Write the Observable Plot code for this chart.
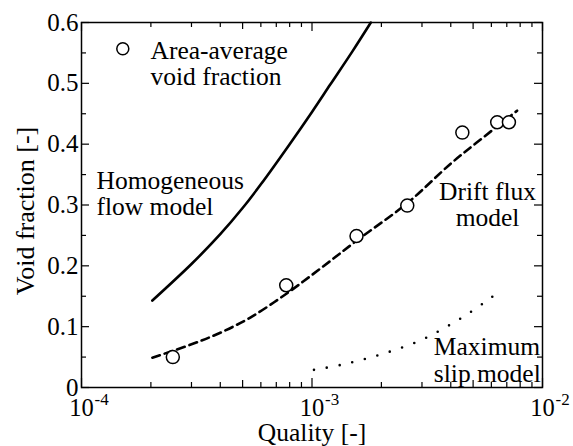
<!DOCTYPE html>
<html>
<head>
<meta charset="utf-8">
<script src="https://cdn.jsdelivr.net/npm/d3@7"></script>
<script src="https://cdn.jsdelivr.net/npm/@observablehq/plot@0.6"></script>
<style>
  html, body { margin: 0; padding: 0; background: #fff; }
  #chart { width: 573px; height: 446px; }
</style>
</head>
<body>
<div id="chart"></div>
<script>
// Measured void fraction (area-average)
const quality  = [2.49e-4, 7.73e-4, 1.56e-3, 2.59e-3, 4.49e-3, 6.36e-3, 7.15e-3];
const voidFrac = [0.050, 0.168, 0.249, 0.299, 0.419, 0.436, 0.436];

// Homogeneous flow model (solid)
const homX = [2.03e-4, 3.0e-4, 4.0e-4, 5.0e-4, 6.0e-4, 8.0e-4, 1.0e-3, 1.2e-3, 1.5e-3, 1.8e-3];
const homY = [0.143, 0.203, 0.252, 0.295, 0.334, 0.400, 0.453, 0.498, 0.553, 0.600];

// Drift flux model (dashed)
const driftX = [2.03e-4, 3.0e-4, 4.0e-4, 5.4e-4, 7.8e-4, 1.1e-3, 1.57e-3, 2.59e-3, 4.0e-3, 5.2e-3, 7.76e-3];
const driftY = [0.049, 0.071, 0.090, 0.115, 0.155, 0.197, 0.242, 0.303, 0.368, 0.403, 0.455];

// Maximum slip model (dotted)
const slipX = [1.02e-3, 1.33e-3, 1.74e-3, 2.26e-3, 2.94e-3, 3.76e-3, 4.74e-3, 5.95e-3, 6.64e-3];
const slipY = [0.029, 0.037, 0.048, 0.061, 0.077, 0.098, 0.121, 0.147, 0.161];

// Ticks
const yMajor = [0, 0.1, 0.2, 0.3, 0.4, 0.5, 0.6];
const yMinor = [0.05, 0.15, 0.25, 0.35, 0.45, 0.55];
const xMajor = [1e-4, 1e-3, 1e-2];
const xMajorExp = ["-4", "-3", "-2"];
const xMid = [5e-4, 5e-3];
const xMinor = [2e-4, 3e-4, 4e-4, 6e-4, 7e-4, 8e-4, 9e-4, 2e-3, 3e-3, 4e-3, 6e-3, 7e-3, 8e-3, 9e-3];

const W = 573, H = 446;
const mL = 81, mR = 31, mT = 22, mB = 59;
const pw = W - mL - mR, ph = H - mT - mB;

const toRows = (xs, ys) => xs.map((x, i) => ({x, y: ys[i]}));
const pts = toRows(quality, voidFrac);
const hom = toRows(homX, homY);
const drift = toRows(driftX, driftY);
const slip = toRows(slipX, slipY);
const xLab = xMajor.map((x, i) => ({x, e: xMajorExp[i]}));

const font = "'Liberation Serif', 'Times New Roman', Times, serif";

const chart = Plot.plot({
  width: W, height: H,
  marginLeft: mL, marginRight: mR, marginTop: mT, marginBottom: mB,
  style: {fontFamily: font, fontSize: "25px", background: "#fff", color: "#000"},
  x: {type: "log", domain: [1e-4, 1e-2], axis: null},
  y: {domain: [0, 0.6], axis: null},
  marks: [
    // model curves
    Plot.line(hom, {x: "x", y: "y", curve: "catmull-rom", stroke: "#000", strokeWidth: 2.6}),
    Plot.line(drift, {x: "x", y: "y", curve: "catmull-rom", stroke: "#000", strokeWidth: 2.6, strokeDasharray: "8,5"}),
    Plot.line(slip, {x: "x", y: "y", curve: "catmull-rom", stroke: "#000", strokeWidth: 2.6, strokeDasharray: "0,13", strokeLinecap: "round"}),
    // data
    Plot.dot(pts, {x: "x", y: "y", r: 6.5, stroke: "#000", strokeWidth: 1.5, fill: "#fff"}),
    // frame
    Plot.frame({stroke: "#000", strokeWidth: 1.5}),
    // inward ticks: left / right
    Plot.tickY(yMajor, {y: d => d, stroke: "#000", strokeWidth: 1.2, insetRight: pw - 8}),
    Plot.tickY(yMajor, {y: d => d, stroke: "#000", strokeWidth: 1.2, insetLeft: pw - 8}),
    Plot.tickY(yMinor, {y: d => d, stroke: "#000", strokeWidth: 1.2, insetRight: pw - 5}),
    Plot.tickY(yMinor, {y: d => d, stroke: "#000", strokeWidth: 1.2, insetLeft: pw - 5}),
    // inward ticks: bottom / top
    Plot.tickX(xMajor, {x: d => d, stroke: "#000", strokeWidth: 1.2, insetTop: ph - 9}),
    Plot.tickX(xMajor, {x: d => d, stroke: "#000", strokeWidth: 1.2, insetBottom: ph - 9}),
    Plot.tickX(xMid, {x: d => d, stroke: "#000", strokeWidth: 1.2, insetTop: ph - 7}),
    Plot.tickX(xMid, {x: d => d, stroke: "#000", strokeWidth: 1.2, insetBottom: ph - 7}),
    Plot.tickX(xMinor, {x: d => d, stroke: "#000", strokeWidth: 1.2, insetTop: ph - 5}),
    Plot.tickX(xMinor, {x: d => d, stroke: "#000", strokeWidth: 1.2, insetBottom: ph - 5}),
    // y tick labels
    Plot.axisY(yMajor, {tickSize: 0, tickPadding: 3, label: null, fontSize: 25, fontVariant: "normal",
      tickFormat: d => d === 0 ? "0" : d3.format(".1f")(d)}),
    // x tick labels: 10 with superscript exponent
    Plot.text(xLab, {x: "x", frameAnchor: "bottom", text: () => "10", dy: 20.5, fontSize: 24.5, textAnchor: "middle", lineAnchor: "middle", fill: "#000"}),
    Plot.text(xLab, {x: "x", frameAnchor: "bottom", text: "e", dx: 13, dy: 12.5, fontSize: 17, textAnchor: "start", lineAnchor: "middle", fill: "#000"}),
    // axis titles
    Plot.text(["Quality [-]"], {frameAnchor: "bottom", text: d => d, dy: 45.5, fontSize: 25.5, textAnchor: "middle", lineAnchor: "middle", fill: "#000"}),
    Plot.text(["Void fraction [-]"], {frameAnchor: "left", text: d => d, rotate: -90, dx: -56, dy: 6, fontSize: 26, textAnchor: "middle", lineAnchor: "middle", fill: "#000"}),
    // legend
    Plot.dot([0], {frameAnchor: "top-left", dx: 41.3, dy: 26.3, r: 6, stroke: "#000", strokeWidth: 1.5, fill: "#fff"}),
    Plot.text(["Area-average\nvoid fraction"], {frameAnchor: "top-left", text: d => d, dx: 69, dy: 17.5, fontSize: 25.5, textAnchor: "start", lineAnchor: "top", lineHeight: 1.04, fill: "#000"}),
    // model annotations
    Plot.text(["Homogeneous\nflow model"], {frameAnchor: "top-left", text: d => d, dx: 15, dy: 147.5, fontSize: 25.5, textAnchor: "start", lineAnchor: "top", lineHeight: 1.04, fill: "#000"}),
    Plot.text(["Drift flux\nmodel"], {frameAnchor: "top-left", text: d => d, dx: 406, dy: 159.5, fontSize: 25.5, textAnchor: "middle", lineAnchor: "top", lineHeight: 1.0, fill: "#000"}),
    Plot.text(["Maximum\nslip model"], {frameAnchor: "top-left", text: d => d, dx: 352.3, dy: 313.5, fontSize: 25.5, textAnchor: "start", lineAnchor: "top", lineHeight: 1.05, fill: "#000"})
  ]
});
document.getElementById("chart").appendChild(chart);
</script>
</body>
</html>
